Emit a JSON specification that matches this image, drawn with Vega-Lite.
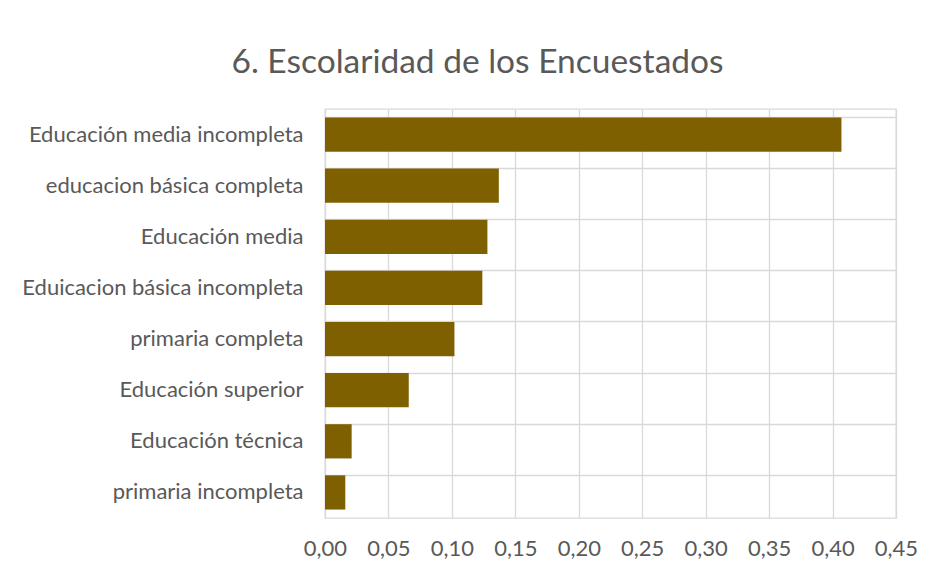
{
  "$schema": "https://vega.github.io/schema/vega-lite/v6.json",
  "width": 571,
  "height": 409,
  "autosize": {"type": "none"},
  "padding": {"left": 325, "top": 109, "right": 33, "bottom": 54},
  "background": "white",
  "title": {
    "text": "6. Escolaridad de los Encuestados",
    "font": "Lato",
    "fontSize": 33.5,
    "fontWeight": "normal",
    "color": "#595959",
    "anchor": "middle",
    "dx": -133,
    "offset": 29
  },
  "data": {
    "values": [
      {"nivel": "Educación media incompleta", "valor": 0.407},
      {"nivel": "educacion básica completa", "valor": 0.137},
      {"nivel": "Educación media", "valor": 0.128},
      {"nivel": "Eduicacion básica incompleta", "valor": 0.124},
      {"nivel": "primaria completa", "valor": 0.102},
      {"nivel": "Educación superior", "valor": 0.066},
      {"nivel": "Educación técnica", "valor": 0.021},
      {"nivel": "primaria incompleta", "valor": 0.016}
    ]
  },
  "mark": {"type": "bar", "color": "#7F6000"},
  "encoding": {
    "y": {
      "field": "nivel",
      "type": "nominal",
      "sort": null,
      "scale": {"paddingInner": 0.33, "paddingOuter": 0.165},
      "axis": {
        "title": null,
        "domain": false,
        "ticks": false,
        "grid": true,
        "bandPosition": 0,
        "gridColor": "#d9d9d9",
        "gridWidth": 1.3,
        "labelFont": "Lato",
        "labelFontSize": 22,
        "labelColor": "#595959",
        "labelPadding": 22,
        "labelLimit": 400
      }
    },
    "x": {
      "field": "valor",
      "type": "quantitative",
      "scale": {"domain": [0, 0.45], "nice": false},
      "axis": {
        "title": null,
        "domain": false,
        "ticks": false,
        "grid": true,
        "gridColor": "#d9d9d9",
        "gridWidth": 1.3,
        "values": [0, 0.05, 0.1, 0.15, 0.2, 0.25, 0.3, 0.35, 0.4, 0.45],
        "labelExpr": "replace(format(datum.value, '.2f'), '.', ',')",
        "labelFont": "Lato",
        "labelFontSize": 22,
        "labelColor": "#595959",
        "labelPadding": 20,
        "labelFlush": false
      }
    }
  },
  "config": {
    "view": {"stroke": "#d9d9d9", "strokeWidth": 1.3}
  }
}
